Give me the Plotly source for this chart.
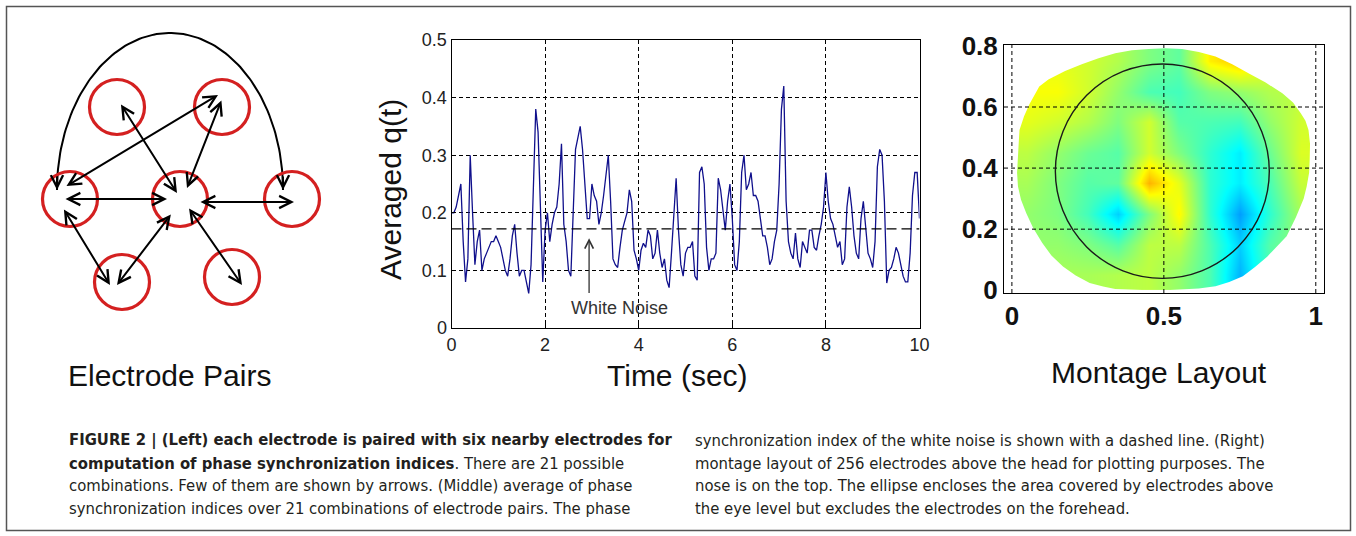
import numpy as np
import plotly.graph_objects as go

W, H = 1356, 536

# ---------------- Middle panel: averaged q(t) ----------------
q_values = [
    0.20, 0.20, 0.21, 0.23, 0.25, 0.15, 0.08, 0.12, 0.30, 0.20, 0.11, 0.15, 0.17, 0.10, 0.12, 0.13, 0.14, 0.15, 0.15, 0.16,
    0.15, 0.14, 0.12, 0.10, 0.09, 0.12, 0.16, 0.18, 0.13, 0.09, 0.10, 0.10, 0.08, 0.06, 0.11, 0.24, 0.38, 0.34, 0.22, 0.08,
    0.17, 0.20, 0.15, 0.18, 0.20, 0.21, 0.25, 0.32, 0.18, 0.15, 0.10, 0.09, 0.20, 0.31, 0.33, 0.35, 0.31, 0.24, 0.19, 0.19,
    0.25, 0.23, 0.22, 0.18, 0.20, 0.23, 0.27, 0.30, 0.22, 0.12, 0.11, 0.105, 0.14, 0.17, 0.185, 0.20, 0.24, 0.22, 0.135, 0.12,
    0.10, 0.135, 0.147, 0.14, 0.17, 0.16, 0.12, 0.13, 0.17, 0.13, 0.105, 0.12, 0.083, 0.07, 0.13, 0.19, 0.26, 0.17, 0.11, 0.09,
    0.13, 0.14, 0.14, 0.15, 0.09, 0.083, 0.27, 0.28, 0.25, 0.14, 0.10, 0.12, 0.12, 0.13, 0.26, 0.24, 0.20, 0.17, 0.22, 0.25,
    0.19, 0.11, 0.10, 0.15, 0.27, 0.30, 0.24, 0.25, 0.27, 0.23, 0.23, 0.22, 0.19, 0.16, 0.16, 0.14, 0.11, 0.12, 0.15, 0.17,
    0.25, 0.38, 0.42, 0.22, 0.15, 0.13, 0.12, 0.165, 0.12, 0.105, 0.15, 0.14, 0.13, 0.17, 0.17, 0.14, 0.135, 0.16, 0.18, 0.21,
    0.27, 0.22, 0.19, 0.18, 0.16, 0.14, 0.15, 0.11, 0.12, 0.21, 0.245, 0.21, 0.16, 0.13, 0.12, 0.19, 0.22, 0.18, 0.13, 0.12,
    0.105, 0.15, 0.28, 0.31, 0.30, 0.22, 0.078, 0.10, 0.105, 0.12, 0.14, 0.13, 0.11, 0.09, 0.08, 0.08, 0.13, 0.23, 0.27, 0.27,
    0.19,
]
t_start, t_end = 0.0, 10.0
white_noise_level = 0.172
time_ticks = [0, 2, 4, 6, 8, 10]
q_ticks = [0, 0.1, 0.2, 0.3, 0.4, 0.5]
arrow_time, arrow_tip_q, arrow_tail_q = 2.94, 0.156, 0.058
label_time, label_q = 3.6, 0.034

# ---------------- Right panel: montage layout ----------------
grid_x = [0.05, 0.15, 0.25, 0.35, 0.45, 0.55, 0.65, 0.75, 0.85, 0.95]
grid_y = [0.05, 0.15, 0.25, 0.35, 0.45, 0.55, 0.65, 0.75]
montage_z = [
    [0.54, 0.54, 0.54, 0.55, 0.56, 0.52, 0.45, 0.30, 0.45, 0.50],  # y=0.05
    [0.52, 0.52, 0.50, 0.46, 0.56, 0.56, 0.45, 0.33, 0.46, 0.52],  # y=0.15
    [0.52, 0.50, 0.44, 0.33, 0.50, 0.63, 0.42, 0.28, 0.42, 0.54],  # y=0.25
    [0.54, 0.50, 0.46, 0.47, 0.70, 0.60, 0.42, 0.36, 0.45, 0.57],  # y=0.35
    [0.56, 0.52, 0.48, 0.46, 0.58, 0.50, 0.42, 0.36, 0.48, 0.59],  # y=0.45
    [0.60, 0.58, 0.55, 0.50, 0.58, 0.46, 0.45, 0.44, 0.52, 0.58],  # y=0.55
    [0.62, 0.62, 0.58, 0.52, 0.45, 0.44, 0.50, 0.52, 0.55, 0.56],  # y=0.65
    [0.60, 0.60, 0.58, 0.55, 0.50, 0.47, 0.64, 0.68, 0.60, 0.56],  # y=0.75
]
head_outline_x = [0.12, 0.175, 0.23, 0.285, 0.34, 0.395, 0.45, 0.505, 0.56, 0.615, 0.67, 0.725, 0.78, 0.835,
                  0.89, 0.925, 0.95, 0.966, 0.976, 0.981, 0.98, 0.978, 0.97, 0.96, 0.935, 0.904, 0.875,
                  0.84, 0.80, 0.76, 0.715, 0.67, 0.615, 0.56, 0.505, 0.45, 0.395, 0.34, 0.30, 0.256, 0.21,
                  0.168, 0.13, 0.10, 0.07, 0.047, 0.03, 0.02, 0.017, 0.02, 0.022, 0.025, 0.04, 0.058, 0.075, 0.09]
head_outline_y = [0.69, 0.718, 0.74, 0.76, 0.776, 0.786, 0.79, 0.792, 0.79, 0.78, 0.765, 0.74, 0.71, 0.68,
                  0.645, 0.615, 0.58, 0.555, 0.525, 0.48, 0.43, 0.385, 0.34, 0.30, 0.24, 0.177, 0.145,
                  0.11, 0.076, 0.046, 0.027, 0.013, 0.006, 0.002, 0.0, 0.0, 0.001, 0.004, 0.012, 0.024, 0.048,
                  0.078, 0.114, 0.155, 0.204, 0.253, 0.296, 0.34, 0.385, 0.427, 0.475, 0.525, 0.57, 0.61, 0.64, 0.667]
ellipse_box = [0.143, 0.039, 0.847, 0.741]  # x0, y0, x1, y1
montage_xticks = [0, 0.5, 1]
montage_yticks = [0, 0.2, 0.4, 0.6, 0.8]
montage_hgrid = [0.2, 0.4, 0.6]

# ---------------- Left panel: electrode pair diagram (pixel units) ----------------
electrode_x = [117, 222, 70, 180, 292, 122, 232]
electrode_y = [107, 107, 199, 199, 199, 282, 277]
pair_x0 = [120, 222, 65, 64, 199, 63, 172, 188]
pair_y0 = [103, 99, 187, 199, 202, 208, 213, 207]
pair_x1 = [177, 187, 218, 167, 294, 110, 117, 242]
pair_y1 = [193, 188, 95, 199, 202, 285, 285, 285]
arc_center = [170, 190]
arc_radii = [113, 157]

caption_left = [
    "<b>FIGURE 2 | (Left) each electrode is paired with six nearby electrodes for</b>",
    "<b>computation of phase synchronization indices</b>. There are 21 possible",
    "combinations. Few of them are shown by arrows. (Middle) average of phase",
    "synchronization indices over 21 combinations of electrode pairs. The phase",
]
caption_right = [
    "synchronization index of the white noise is shown with a dashed line. (Right)",
    "montage layout of 256 electrodes above the head for plotting purposes. The",
    "nose is on the top. The ellipse encloses the area covered by electrodes above",
    "the eye level but excludes the electrodes on the forehead.",
]
caption_line_y = [440, 463, 485, 508]


def px(x):
    return x / W


def py(y):
    return 1 - y / H


FONT = "Arial, Liberation Sans, sans-serif"
CAP_FONT = "DejaVu Sans Condensed, Liberation Sans Narrow, sans-serif"

fig = go.Figure()

# ---- middle panel traces ----
t = np.linspace(t_start, t_end, len(q_values))
fig.add_trace(go.Scatter(x=t, y=q_values, mode="lines", line=dict(color="#10108c", width=1.3),
                         xaxis="x", yaxis="y", showlegend=False, hoverinfo="skip"))
fig.add_trace(go.Scatter(x=[t_start, t_end], y=[white_noise_level, white_noise_level], mode="lines",
                         line=dict(color="black", width=1.3, dash="10px,5px"),
                         xaxis="x", yaxis="y", showlegend=False, hoverinfo="skip"))

# ---- right panel traces ----
jet = [[0, "#00008f"], [0.125, "#0000ff"], [0.375, "#00ffff"], [0.625, "#ffff00"],
       [0.875, "#ff0000"], [1, "#800000"]]
fig.add_trace(go.Heatmap(x=grid_x, y=grid_y, z=montage_z, colorscale=jet, zmin=0, zmax=1,
                         zsmooth="best", showscale=False, xaxis="x2", yaxis="y2", hoverinfo="skip"))
rect_x = [-0.2, -0.2, 1.2, 1.2, -0.2]
rect_y = [-0.2, 1.0, 1.0, -0.2, -0.2]
ox = head_outline_x[::-1]
oy = head_outline_y[::-1]
mask_x = rect_x + ox + [ox[0], rect_x[0]]
mask_y = rect_y + oy + [oy[0], rect_y[0]]
fig.add_trace(go.Scatter(x=mask_x, y=mask_y, mode="lines", fill="toself", fillcolor="white",
                         line=dict(color="white", width=0), xaxis="x2", yaxis="y2",
                         showlegend=False, hoverinfo="skip"))

# ---- left diagram traces ----
theta = np.linspace(np.pi, 0, 120)
arc_x = arc_center[0] + arc_radii[0] * np.cos(theta)
arc_y = arc_center[1] - arc_radii[1] * np.sin(theta)
fig.add_trace(go.Scatter(x=arc_x, y=arc_y, mode="lines", line=dict(color="black", width=2),
                         xaxis="x3", yaxis="y3", showlegend=False, hoverinfo="skip"))
fig.add_trace(go.Scatter(x=electrode_x, y=electrode_y, mode="markers",
                         marker=dict(symbol="circle-open", size=55, color="#d42020",
                                     line=dict(width=3.2, color="#d42020")),
                         xaxis="x3", yaxis="y3", showlegend=False, hoverinfo="skip"))

annotations = []
for x0, y0, x1, y1 in zip(pair_x0, pair_y0, pair_x1, pair_y1):
    annotations.append(dict(x=x1, y=y1, ax=x0, ay=y0, xref="x3", yref="y3", axref="x3", ayref="y3",
                            text="", showarrow=True, arrowhead=5, startarrowhead=5, arrowside="end+start",
                            arrowsize=1.2, startarrowsize=1.2, arrowwidth=2, arrowcolor="black",
                            standoff=0, startstandoff=0))
for sx in (arc_x[0], arc_x[-1]):
    annotations.append(dict(x=sx, y=arc_center[1], ax=sx, ay=arc_center[1] - 15, xref="x3", yref="y3",
                            axref="x3", ayref="y3", text="", showarrow=True, arrowhead=5, arrowsize=1.2,
                            arrowwidth=2, arrowcolor="black", standoff=0))

# white noise arrow and label
annotations.append(dict(x=arrow_time, y=arrow_tip_q, ax=arrow_time, ay=arrow_tail_q, xref="x", yref="y",
                        axref="x", ayref="y", text="", showarrow=True, arrowhead=5, arrowsize=1.3,
                        arrowwidth=1.3, arrowcolor="#333333", standoff=0))
annotations.append(dict(x=label_time, y=label_q, xref="x", yref="y", text="White Noise", showarrow=False,
                        xanchor="center", yanchor="middle",
                        font=dict(family=FONT, size=18, color="#333333")))

# panel titles
TITLE = dict(family=FONT, size=30, color="#111111")
title_common = dict(xref="paper", yref="paper", showarrow=False, xanchor="center", yanchor="middle", font=TITLE)
annotations += [
    dict(x=px(169), y=py(375), text="Electrode Pairs", **title_common),
    dict(x=px(677), y=py(375), text="Time (sec)", **title_common),
    dict(x=px(390), y=py(190), text="Averaged q(t)", textangle=-90, **title_common),
    dict(x=px(1159), y=py(372), text="Montage Layout", **title_common),
]

# caption
CAP = dict(family=CAP_FONT, size=16.5, color="#231f20")
for txt, yy in zip(caption_left, caption_line_y):
    annotations.append(dict(x=px(67), y=py(yy), xref="paper", yref="paper", text=txt, showarrow=False,
                            xanchor="left", yanchor="middle", font=CAP))
for txt, yy in zip(caption_right, caption_line_y):
    annotations.append(dict(x=px(693), y=py(yy), xref="paper", yref="paper", text=txt, showarrow=False,
                            xanchor="left", yanchor="middle", font=CAP))

# shapes: right panel grid, ellipse, figure border
shapes = []
dash = "4px,3px"
for xv in montage_xticks:
    shapes.append(dict(type="line", xref="x2", yref="y2 domain", x0=xv, x1=xv, y0=0, y1=1,
                       line=dict(color="black", width=1, dash=dash), layer="above"))
for yv in montage_hgrid:
    shapes.append(dict(type="line", xref="x2 domain", yref="y2", x0=0, x1=1, y0=yv, y1=yv,
                       line=dict(color="black", width=1, dash=dash), layer="above"))
shapes.append(dict(type="circle", xref="x2", yref="y2", x0=ellipse_box[0], y0=ellipse_box[1],
                   x1=ellipse_box[2], y1=ellipse_box[3], line=dict(color="#1a1a1a", width=1.4), layer="above"))
shapes.append(dict(type="rect", xref="paper", yref="paper", x0=px(6.5), x1=px(1350.5), y0=py(530.5), y1=py(6.5),
                   line=dict(color="#555555", width=1.5), layer="below"))

axis_common = dict(showline=True, linecolor="black", linewidth=1, mirror=True, zeroline=False, automargin=False)

fig.update_layout(
    width=W, height=H, autosize=False,
    margin=dict(l=0, r=0, t=0, b=0, pad=0),
    paper_bgcolor="white", plot_bgcolor="white",
    showlegend=False,
    xaxis=dict(domain=[px(451.5), px(919.5)], range=[t_start, t_end], tickvals=time_ticks,
               ticktext=[str(v) for v in time_ticks], showgrid=True, gridcolor="black", gridwidth=1,
               griddash=dash, ticks="inside", ticklen=4, tickcolor="black",
               tickfont=dict(family=FONT, size=18, color="#222222"), anchor="y", **axis_common),
    yaxis=dict(domain=[py(328), py(40)], range=[0, 0.5], tickvals=q_ticks,
               ticktext=["0", "0.1", "0.2", "0.3", "0.4", "0.5"], showgrid=True, gridcolor="black",
               gridwidth=1, griddash=dash, ticks="inside", ticklen=4, tickcolor="black",
               tickfont=dict(family=FONT, size=18, color="#222222"), anchor="x", **axis_common),
    xaxis2=dict(domain=[px(1004), px(1324)], range=[-0.026, 1.027], tickvals=montage_xticks,
                ticktext=["0", "0.5", "1"], showgrid=False, ticks="",
                tickfont=dict(family=FONT, size=26, color="#111111", weight="bold"), anchor="y2",
                layer="above traces", **axis_common),
    yaxis2=dict(domain=[py(293), py(45)], range=[-0.009, 0.803], tickvals=montage_yticks,
                ticktext=["0", "0.2", "0.4", "0.6", "0.8"], showgrid=False, ticks="",
                tickfont=dict(family=FONT, size=26, color="#111111", weight="bold"), anchor="x2",
                layer="above traces", **axis_common),
    xaxis3=dict(domain=[0, px(360)], range=[0, 360], visible=False, anchor="y3", automargin=False),
    yaxis3=dict(domain=[py(400), 1], range=[400, 0], visible=False, anchor="x3", automargin=False),
    annotations=annotations,
    shapes=shapes,
)

fig.write_html("out.html", config={"displayModeBar": False},
               post_script="document.body.style.margin='0px';document.body.style.overflow='hidden';")
